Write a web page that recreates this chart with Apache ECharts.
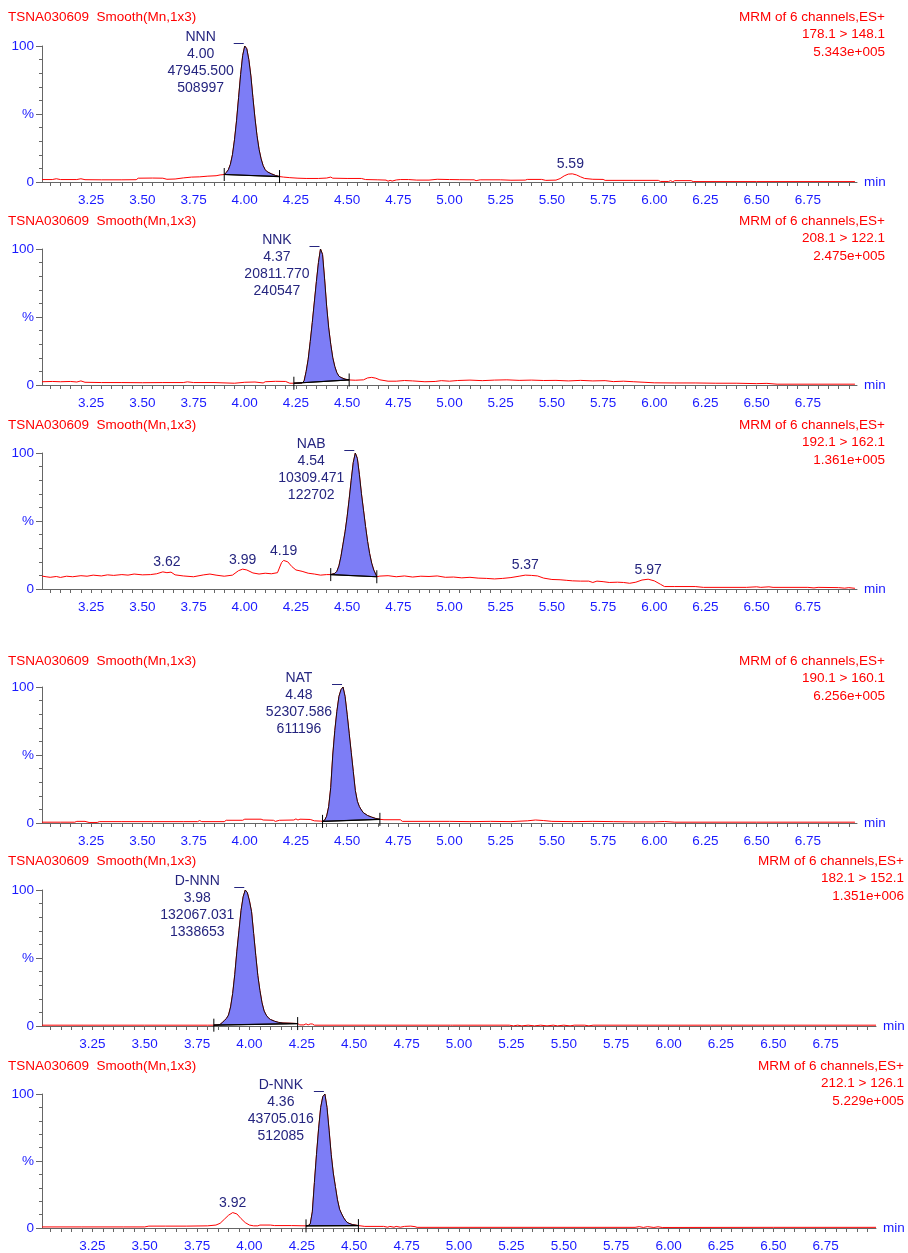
<!DOCTYPE html>
<html><head><meta charset="utf-8">
<script src="https://cdn.jsdelivr.net/npm/echarts@6/dist/echarts.min.js"></script>
<style>html,body{margin:0;padding:0;background:#fff}#c{width:908px;height:1253px}</style>
</head><body><div id="c"></div>
<script>
// ---------------- data ----------------
const tickLabels = ['3.25','3.50','3.75','4.00','4.25','4.50','4.75','5.00','5.25','5.50','5.75','6.00','6.25','6.50','6.75'];
const timeRange = [3.01, 6.99];
const sampleName = 'TSNA030609  Smooth(Mn,1x3)';
const channelTitle = 'MRM of 6 channels,ES+';
const transitions = ['178.1 > 148.1','208.1 > 122.1','192.1 > 162.1','190.1 > 160.1','182.1 > 152.1','212.1 > 126.1'];
const maxIntensity = ['5.343e+005','2.475e+005','1.361e+005','6.256e+005','1.351e+006','5.229e+005'];
const peakNames = ['NNN','NNK','NAB','NAT','D-NNN','D-NNK'];
const peakRTs = ['4.00','4.37','4.54','4.48','3.98','4.36'];
const peakAreas = ['47945.500','20811.770','10309.471','52307.586','132067.031','43705.016'];
const peakHeights = ['508997','240547','122702','611196','1338653','512085'];
const integStart = [3.90, 4.24, 4.42, 4.38, 3.83, 4.27];
const integEnd   = [4.17, 4.51, 4.645, 4.66, 4.23, 4.52];
const minorPeaks = [[5.59], [], [3.62, 3.99, 4.19, 5.37, 5.97], [], [], [3.92]];

const traceNNN = [[3.01,1.8],[3.06,1.8],[3.08,2.4],[3.10,1.8],[3.18,1.8],[3.20,2.4],[3.22,1.7],[3.30,1.6],[3.40,1.6],[3.47,1.7],[3.48,2.8],[3.55,2.9],[3.60,2.8],[3.62,2.0],[3.66,2.2],[3.70,3.0],[3.74,3.6],[3.78,3.8],[3.82,4.3],[3.86,4.6],[3.88,5.2],[3.90,5.5],[3.91,7],[3.92,9],[3.93,13],[3.94,20],[3.95,31],[3.96,45],[3.97,62],[3.98,79],[3.99,93],[4.00,100],[4.01,98],[4.02,90],[4.03,78],[4.04,62],[4.05,47],[4.06,34],[4.07,24],[4.08,17],[4.09,12],[4.10,9],[4.11,7.5],[4.13,6],[4.15,4.8],[4.17,4.0],[4.19,3.6],[4.22,3.2],[4.26,2.8],[4.30,2.6],[4.36,2.6],[4.40,2.9],[4.42,3.6],[4.43,2.8],[4.50,2.6],[4.57,2.6],[4.59,1.8],[4.65,1.6],[4.69,1.4],[4.70,0.6],[4.71,1.2],[4.72,0.7],[4.74,1.5],[4.76,1.8],[4.80,1.8],[4.84,1.4],[4.90,1.4],[4.94,2.0],[5.00,1.8],[5.05,1.7],[5.12,1.6],[5.13,1.0],[5.15,1.6],[5.25,1.6],[5.30,1.3],[5.37,1.4],[5.38,1.9],[5.45,1.9],[5.47,1.2],[5.52,1.4],[5.54,2.5],[5.56,4.5],[5.58,5.8],[5.60,6.0],[5.62,5.2],[5.64,3.8],[5.66,2.6],[5.70,2.0],[5.75,1.9],[5.76,1.2],[5.90,1.2],[6.02,1.2],[6.03,0.4],[6.07,0.4],[6.08,1.0],[6.09,0.2],[6.10,1.0],[6.18,1.0],[6.19,0.3],[6.50,0.3],[6.98,0.3]];

const traceNNK = [[3.01,2.4],[3.06,2.6],[3.10,2.4],[3.15,2.6],[3.18,2.2],[3.20,3.0],[3.22,2.0],[3.30,1.8],[3.40,1.8],[3.50,1.7],[3.60,1.8],[3.70,1.8],[3.72,2.3],[3.75,1.8],[3.85,1.8],[3.95,1.3],[4.00,2.0],[4.05,2.2],[4.09,1.5],[4.10,2.4],[4.15,2.7],[4.20,2.6],[4.22,1.3],[4.24,1.3],[4.28,1.5],[4.29,3],[4.30,10],[4.31,19],[4.32,32],[4.33,46],[4.34,61],[4.35,76],[4.36,90],[4.37,100],[4.38,96],[4.39,78],[4.40,58],[4.41,42],[4.42,30],[4.43,20],[4.44,13.5],[4.45,9],[4.46,6.5],[4.47,5.5],[4.49,4.3],[4.51,3.7],[4.54,3.5],[4.58,3.8],[4.60,5.2],[4.62,5.6],[4.64,5.0],[4.66,3.8],[4.70,2.8],[4.74,2.8],[4.78,3.3],[4.82,3.0],[4.88,2.4],[4.93,2.6],[4.96,3.2],[5.00,2.8],[5.04,3.3],[5.10,3.6],[5.16,3.2],[5.22,3.6],[5.28,3.8],[5.34,3.4],[5.40,3.6],[5.46,3.3],[5.52,3.4],[5.58,3.0],[5.64,3.4],[5.70,3.0],[5.76,3.2],[5.80,2.5],[5.85,2.8],[5.90,2.4],[5.95,2.0],[6.00,1.6],[6.10,1.5],[6.20,1.5],[6.30,1.3],[6.40,1.3],[6.50,1.0],[6.55,1.2],[6.60,0.6],[6.80,0.6],[6.98,0.6]];

const traceNAB = [[3.01,9.5],[3.03,9.0],[3.05,8.6],[3.08,9.2],[3.10,8.5],[3.13,9.4],[3.16,9.0],[3.20,9.8],[3.23,9.4],[3.26,10.2],[3.30,9.6],[3.33,10.4],[3.36,10.0],[3.40,10.6],[3.43,10.2],[3.46,11.0],[3.50,10.4],[3.54,10.6],[3.57,11.2],[3.60,12.6],[3.62,12.0],[3.64,12.4],[3.66,10.4],[3.70,9.6],[3.75,9.0],[3.80,10.4],[3.83,11.0],[3.86,10.2],[3.90,9.4],[3.94,10.2],[3.97,13.5],[3.99,14.6],[4.01,14.0],[4.04,11.8],[4.07,11.0],[4.10,11.6],[4.13,11.2],[4.16,12.0],[4.18,19.5],[4.19,21.0],[4.21,20.0],[4.23,16.5],[4.25,14.0],[4.28,13.0],[4.31,11.6],[4.34,11.0],[4.37,10.2],[4.40,10.6],[4.42,10.6],[4.44,11.5],[4.45,13],[4.46,17],[4.47,24],[4.48,33],[4.49,42],[4.50,53],[4.51,66],[4.52,80],[4.53,93],[4.54,100],[4.55,96],[4.56,84],[4.57,70],[4.58,58],[4.59,46],[4.60,35],[4.61,26],[4.62,19],[4.63,14],[4.645,9],[4.66,9.5],[4.70,9.8],[4.74,9.0],[4.78,9.6],[4.82,8.8],[4.86,9.4],[4.90,9.2],[4.94,9.6],[4.98,8.6],[5.02,8.8],[5.06,8.2],[5.10,8.6],[5.14,8.0],[5.18,7.8],[5.22,7.4],[5.26,7.8],[5.30,8.4],[5.34,9.4],[5.37,10.2],[5.40,10.0],[5.43,9.6],[5.46,8.0],[5.50,7.0],[5.54,6.8],[5.57,6.4],[5.60,6.0],[5.64,5.8],[5.68,5.8],[5.70,4.8],[5.72,5.8],[5.75,5.4],[5.78,4.8],[5.82,5.0],[5.85,4.8],[5.88,4.2],[5.91,5.0],[5.94,6.6],[5.97,7.2],[6.00,6.0],[6.03,3.5],[6.05,1.8],[6.10,1.8],[6.20,1.8],[6.24,1.2],[6.45,1.2],[6.50,1.6],[6.52,1.2],[6.56,1.6],[6.58,1.2],[6.75,1.2],[6.78,0.8],[6.80,1.2],[6.90,1.0],[6.93,0.6],[6.95,1.0],[6.98,0.5]];

const traceNAT = [[3.01,0.6],[3.10,0.6],[3.17,0.6],[3.18,1.2],[3.22,1.2],[3.24,0.4],[3.28,0.4],[3.29,1.0],[3.40,1.0],[3.55,1.0],[3.70,1.0],[3.77,1.0],[3.78,1.8],[3.79,1.0],[3.90,1.0],[3.91,2.0],[3.99,2.0],[4.00,2.8],[4.08,2.8],[4.09,2.2],[4.14,2.0],[4.15,1.2],[4.17,2.0],[4.24,2.2],[4.25,3.0],[4.26,2.2],[4.27,2.8],[4.32,2.6],[4.34,1.6],[4.37,1.4],[4.38,1.2],[4.39,2.0],[4.40,5],[4.41,12],[4.42,26],[4.43,50],[4.44,68],[4.45,82],[4.46,93],[4.47,98],[4.48,100],[4.49,93],[4.50,80],[4.51,66],[4.52,52],[4.53,38],[4.54,24],[4.55,16],[4.56,12],[4.57,9.5],[4.58,7.5],[4.60,5.5],[4.62,4.3],[4.64,3.3],[4.66,2.7],[4.68,2.4],[4.76,2.4],[4.77,1.2],[4.90,1.2],[5.00,1.2],[5.10,1.0],[5.20,1.2],[5.30,1.0],[5.38,1.6],[5.42,2.2],[5.46,1.8],[5.50,1.2],[5.60,1.0],[5.70,1.2],[5.80,1.0],[5.90,0.8],[6.00,0.8],[6.05,1.1],[6.10,0.6],[6.50,0.6],[6.98,0.6]];

const traceDNNN = [[3.01,0.6],[3.50,0.6],[3.80,0.6],[3.83,0.6],[3.85,0.8],[3.86,1.2],[3.87,2.5],[3.88,4],[3.89,5.5],[3.90,8],[3.91,14],[3.92,24],[3.93,38],[3.94,55],[3.95,70],[3.96,85],[3.97,95],[3.98,100],[3.99,98],[4.00,92],[4.01,84],[4.02,68],[4.03,52],[4.04,37],[4.05,26],[4.06,17],[4.07,11],[4.08,8],[4.09,6],[4.10,4.8],[4.12,3.5],[4.14,2.6],[4.16,2.2],[4.20,2.0],[4.23,1.8],[4.24,0.8],[4.26,0.8],[4.27,1.6],[4.28,0.8],[4.29,1.5],[4.30,1.5],[4.31,0.6],[4.96,0.6],[4.965,0.1],[4.97,0.6],[5.24,0.6],[5.26,0.1],[5.28,0.6],[5.30,0.1],[5.33,0.6],[5.36,0.1],[5.39,0.6],[5.42,0.1],[5.45,0.6],[5.47,0.1],[5.50,0.6],[5.53,0.1],[5.55,0.6],[5.60,0.6],[5.62,0.1],[5.64,0.6],[6.20,0.6],[6.99,0.6]];

const traceDNNK = [[3.01,0.8],[3.20,0.8],[3.40,0.8],[3.50,0.8],[3.52,1.4],[3.60,1.4],[3.70,1.4],[3.80,1.6],[3.84,2.2],[3.86,3.5],[3.88,6.5],[3.90,9.5],[3.92,11.5],[3.94,10.5],[3.96,7],[3.98,4],[4.00,2.2],[4.02,1.6],[4.04,1.6],[4.05,2.2],[4.10,2.2],[4.12,1.8],[4.20,1.8],[4.27,1.6],[4.28,1.8],[4.29,3],[4.30,12],[4.31,34],[4.32,55],[4.33,74],[4.34,90],[4.35,98],[4.36,100],[4.37,90],[4.38,73],[4.39,55],[4.40,41],[4.41,31],[4.42,21],[4.43,14],[4.44,10.5],[4.45,7.5],[4.46,5.2],[4.47,3.8],[4.49,2.6],[4.52,1.8],[4.55,1.2],[4.64,1.2],[4.66,0.6],[4.67,1.2],[4.69,0.6],[4.70,1.2],[4.72,0.6],[4.74,1.2],[4.77,1.4],[4.79,1.0],[4.80,0.5],[5.84,0.5],[5.86,1.0],[5.88,0.4],[5.90,1.0],[5.93,0.4],[5.95,0.9],[5.97,0.4],[6.50,0.5],[6.99,0.5]];

const traces = [traceNNN, traceNNK, traceNAB, traceNAT, traceDNNN, traceDNNK];

// ---------------- layout / style ----------------
const FONT = '"Liberation Sans", Arial, sans-serif';
const RED = '#ff0000', BLUE = '#1a1aff', NAVY = '#25257f', FILL = '#7d7df6', AXIS = '#666666';
const panelTops = [46, 249, 453, 687, 890, 1094];
const panelH = 136;
const panelRight = [51, 51, 51, 51, 32, 32];
const headerY = [17, 221, 425, 661, 861, 1066];

const majorVals = tickLabels.map(Number);
const minorVals = [];
for (let k = 61; k <= 139; k++) minorVals.push(+(k * 0.05).toFixed(2));

const measCtx = document.createElement('canvas').getContext('2d');
function textW(s, size) { measCtx.font = size + 'px ' + FONT; return measCtx.measureText(s).width; }

function interp(tr, t) {
  for (let i = 0; i < tr.length - 1; i++) {
    if (tr[i][0] <= t && tr[i + 1][0] >= t) {
      const f = (t - tr[i][0]) / (tr[i + 1][0] - tr[i][0] || 1);
      return tr[i][1] + f * (tr[i + 1][1] - tr[i][1]);
    }
  }
  return tr[tr.length - 1][1];
}
function localMax(tr, t) {
  let best = interp(tr, t), bt = t;
  tr.forEach(p => { if (Math.abs(p[0] - t) <= 0.03 && p[1] > best) { best = p[1]; bt = p[0]; } });
  return [bt, best];
}

function peakRender(idx) {
  return function (params, api) {
    const tr = traces[idx];
    const s = integStart[idx], e = integEnd[idx];
    const pts = [api.coord([s, interp(tr, s)])];
    tr.forEach(p => { if (p[0] > s && p[0] < e) pts.push(api.coord(p)); });
    pts.push(api.coord([e, interp(tr, e)]));
    const ch = [];
    ch.push({ type: 'polygon', shape: { points: pts }, style: { fill: FILL, stroke: '#1a0a0a', lineWidth: 1 } });
    const a = pts[0], b = pts[pts.length - 1];
    ch.push({ type: 'line', shape: { x1: a[0], y1: a[1], x2: b[0], y2: b[1] }, style: { stroke: '#000', lineWidth: 1.2 } });
    [a, b].forEach(p => ch.push({ type: 'line', shape: { x1: p[0], y1: p[1] - 6.5, x2: p[0], y2: p[1] + 6.5 }, style: { stroke: '#000', lineWidth: 1 } }));
    let ap = tr[0];
    tr.forEach(p => { if (p[1] > ap[1]) ap = p; });
    const A = api.coord(ap);
    ch.push({ type: 'line', shape: { x1: A[0] - 11, y1: A[1] - 2.5, x2: A[0] - 1, y2: A[1] - 2.5 }, style: { stroke: NAVY, lineWidth: 1 } });
    const lines = [peakNames[idx], peakRTs[idx], peakAreas[idx], peakHeights[idx]];
    const bw = Math.max(...lines.map(l => textW(l, 14)));
    const cx = A[0] - 11 - bw / 2;
    lines.forEach((l, k) => ch.push({ type: 'text', style: { text: l, x: cx, y: A[1] - 9.3 + k * 17.2, textAlign: 'center', textVerticalAlign: 'middle', fill: NAVY, font: '14px ' + FONT } }));
    minorPeaks[idx].forEach(rt => {
      const m = localMax(tr, rt);
      const P = api.coord([rt, m[1]]);
      ch.push({ type: 'text', style: { text: rt.toFixed(2), x: P[0], y: P[1] - 9.5, textAlign: 'center', textVerticalAlign: 'middle', fill: NAVY, font: '14px ' + FONT } });
    });
    return { type: 'group', children: ch };
  };
}

const grids = [], xAxes = [], yAxes = [], series = [], graphics = [];
for (let i = 0; i < 6; i++) {
  grids.push({ left: 42, right: panelRight[i], top: panelTops[i], height: panelH });
  xAxes.push({
    type: 'value', gridIndex: i, min: timeRange[0], max: timeRange[1],
    axisLine: { show: true, onZero: false, lineStyle: { color: AXIS, width: 1 } },
    axisTick: { show: true, length: 4, customValues: minorVals, lineStyle: { color: AXIS } },
    axisLabel: { customValues: majorVals, formatter: v => tickLabels[majorVals.indexOf(+v.toFixed(2))] || '', color: BLUE, fontSize: 13.5, fontFamily: FONT, margin: 11 },
    splitLine: { show: false },
    name: 'min', nameLocation: 'end', nameGap: 7,
    nameTextStyle: { color: BLUE, fontSize: 13.5, fontFamily: FONT, verticalAlign: 'middle', padding: [9, 0, 0, 0] }
  });
  yAxes.push({
    type: 'value', gridIndex: i, min: 0, max: 100, interval: 50,
    axisLine: { show: true, lineStyle: { color: AXIS, width: 1 } },
    axisTick: { show: true, length: 6, lineStyle: { color: AXIS } },
    minorTick: { show: true, splitNumber: 5, length: 3, lineStyle: { color: AXIS } },
    axisLabel: { formatter: v => (v === 50 ? '%' : String(v)), color: BLUE, fontSize: 13.5, fontFamily: FONT, margin: 8 },
    splitLine: { show: false }, minorSplitLine: { show: false }
  });
  series.push({
    type: 'line', xAxisIndex: i, yAxisIndex: i, data: traces[i], showSymbol: false, symbol: 'none',
    lineStyle: { color: RED, width: 1 }, z: 2, animation: false
  });
  series.push({
    type: 'custom', xAxisIndex: i, yAxisIndex: i, data: [[integStart[i], 0]], renderItem: peakRender(i),
    z: 3, clip: false, animation: false, silent: true
  });
  graphics.push({ type: 'text', x: 8, y: headerY[i], style: { text: sampleName, fill: RED, font: '13.5px ' + FONT, textVerticalAlign: 'middle' } });
  const rx = 908 - panelRight[i] + 28;
  [channelTitle, transitions[i], maxIntensity[i]].forEach((t, k) => graphics.push({
    type: 'text', x: rx, y: headerY[i] + k * 17.4,
    style: { text: t, fill: RED, font: '13.5px ' + FONT, textAlign: 'right', textVerticalAlign: 'middle' }
  }));
}

const chart = echarts.init(document.getElementById('c'), null, { renderer: 'canvas' });
chart.setOption({
  animation: false, backgroundColor: '#ffffff',
  grid: grids, xAxis: xAxes, yAxis: yAxes, series: series, graphic: graphics
});
</script></body></html>
